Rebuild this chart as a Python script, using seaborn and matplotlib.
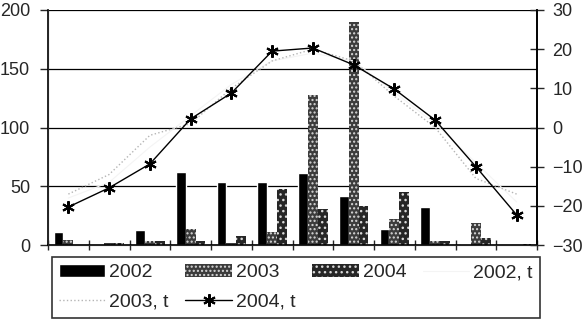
import pandas as pd
import matplotlib.pyplot as plt
import seaborn as sns
from matplotlib.patches import Patch
from matplotlib.lines import Line2D

# Данные (месяцы 1..12)
months = list(range(1, 13))
v2002 = [11, 0, 13, 62, 54, 54, 61, 42, 14, 32, 1, 0]
v2003 = [4, 2, 3, 14, 2, 11, 128, 190, 22, 3, 19, 0]
v2004 = [0, 2, 3, 3, 8, 48, 31, 33, 45, 3, 6, 1]
t2002 = [-18, -14, -5, 3, 11, 17, 19, 17, 9, 1, -9, -19]
t2003 = [-17, -12, -2, 1, 10, 17, 20, 17, 8, 0, -13, -17]
t2004 = [-20.3, -15.4, -9.3, 2.2, 8.8, 19.5, 20.3, 16.0, 9.8, 1.9, -10.0, -22.3]

df = pd.DataFrame({
    'month': months * 3,
    'value': v2002 + v2003 + v2004,
    'year': ['2002'] * 12 + ['2003'] * 12 + ['2004'] * 12,
})

sns.set_style('white')
plt.rcParams['font.family'] = ['Liberation Sans', 'DejaVu Sans']
plt.rcParams['hatch.linewidth'] = 1.0

fig = plt.figure(figsize=(5.82, 3.27), dpi=100)
ax = fig.add_axes([48 / 582, 1 - 245 / 327, 489 / 582, 235 / 327])

bar_colors = {'2002': 'black', '2003': '#3c3c3c', '2004': '#262626'}
sns.barplot(data=df, x='month', y='value', hue='year', palette=bar_colors,
            width=0.73, saturation=1, ax=ax, legend=False)
hatches = [None, '....', '...']
for cont, h in zip(ax.containers, hatches):
    for p in cont:
        if h:
            p.set_hatch(h)
            p.set_edgecolor('#d8d8d8')
            p.set_linewidth(0)

ax.set_xlim(-0.5, 11.5)
ax.set_ylim(0, 200)
ax.set_yticks([0, 50, 100, 150, 200])
ax.set_xticks([i - 0.5 for i in range(13)])
ax.set_xticklabels([])
ax.set_xlabel('')
ax.set_ylabel('')
ax.grid(axis='y', color='black', lw=0.9)
ax.set_axisbelow(True)
ax.tick_params(axis='y', direction='out', length=6, width=1, labelsize=13, pad=7, left=True)
ax.tick_params(axis='x', direction='inout', length=7, width=1, bottom=True)
for s in ['left', 'bottom', 'right']:
    ax.spines[s].set_color('black')
    ax.spines[s].set_linewidth(1.2)
ax.spines['top'].set_visible(False)

ax2 = ax.twinx()
x_idx = list(range(12))
sns.lineplot(x=x_idx, y=t2002, ax=ax2, color='#f4f4f4', lw=0.8)
sns.lineplot(x=x_idx, y=t2003, ax=ax2, color='#b5b5b5', lw=1, linestyle=':')
sns.lineplot(x=x_idx, y=t2004, ax=ax2, color='black', lw=1,
             marker=(6, 2, 0), markersize=9, markeredgewidth=1.5,
             markeredgecolor='black')
ax2.set_ylim(-30, 30)
ax2.set_yticks(range(-30, 31, 10))
ax2.set_ylabel('')
ax2.tick_params(axis='y', direction='inout', length=10, width=1, labelsize=13, pad=6, right=True)
ax2.spines['top'].set_visible(False)
ax2.spines['right'].set_color('black')
ax2.spines['right'].set_linewidth(1.2)

handles = [
    Patch(facecolor='black', label='2002'),
    Line2D([], [], color='#b5b5b5', lw=1, linestyle=':', label='2003, t'),
    Patch(facecolor='#3c3c3c', hatch='....', edgecolor='#d8d8d8', lw=0, label='2003'),
    Line2D([], [], color='black', lw=1, marker=(6, 2, 0), markersize=9,
           markeredgewidth=1.5, label='2004, t'),
    Patch(facecolor='#262626', hatch='...', edgecolor='#d8d8d8', lw=0, label='2004'),
    Line2D([], [], color='#f4f4f4', lw=0.8, label='2002, t'),
]
leg = fig.legend(handles=handles, ncol=4, loc='upper left',
                 bbox_to_anchor=(52 / 582, 1 - 257 / 327), fontsize=14,
                 frameon=True, fancybox=False, edgecolor='black',
                 handlelength=2.4, handleheight=0.7, handletextpad=0.2,
                 columnspacing=0.85, borderpad=0.35, labelspacing=0.6,
                 borderaxespad=0)
leg.get_frame().set_linewidth(1.2)

plt.savefig('out.png', dpi=100)
